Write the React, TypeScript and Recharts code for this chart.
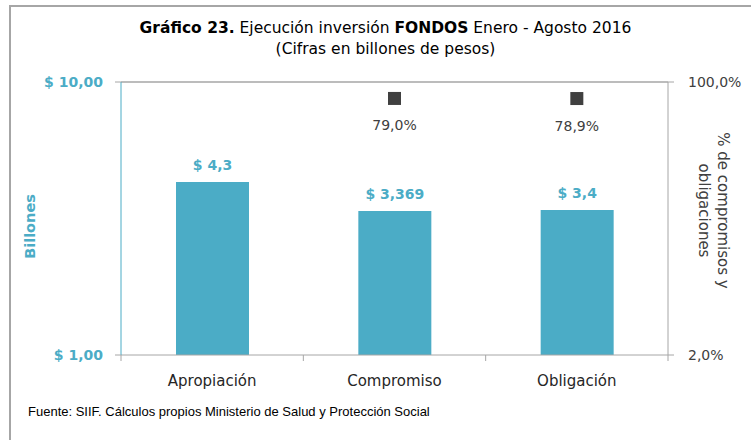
import React from 'react';
import { ComposedChart, Bar, Line, XAxis, YAxis, LabelList, ReferenceLine, Label } from 'recharts';

const categories = ['Apropiación', 'Compromiso', 'Obligación'];
const amounts = [4.3, 3.369, 3.4];
const amountLabels = ['$ 4,3', '$ 3,369', '$ 3,4'];
const percents: (number | null)[] = [null, 79.0, 78.9];
const percentLabels = ['', '79,0%', '78,9%'];
const leftTicks = [1, 10];
const leftTickLabels = ['$ 1,00', '$ 10,00'];
const rightTicks = [2, 100];
const rightTickLabels = ['2,0%', '100,0%'];

const data = categories.map((name, i) => ({ name, amount: amounts[i], pct: percents[i] }));

const BLUE = '#4BACC6';
const GRAY = '#a6a6a6';
const DARK = '#404040';
const FONT = '"DejaVu Sans", sans-serif';

const XTick = (props: any) => {
  const { x, y, payload, index, visibleTicksCount, width } = props;
  const half = payload && payload.offset ? payload.offset : width / visibleTicksCount / 2;
  const axisY = y - 6 - 14;
  return (
    <g>
      <line x1={x - half} x2={x - half} y1={axisY} y2={axisY + 6} stroke={GRAY} />
      {index === visibleTicksCount - 1 && (
        <line x1={x + half} x2={x + half} y1={axisY} y2={axisY + 6} stroke={GRAY} />
      )}
      <text x={x} y={y} dy="0.71em" textAnchor="middle" fill="#262626" fontSize={15} fontFamily={FONT}>
        {payload.value}
      </text>
    </g>
  );
};

const Square = (props: any) => {
  const { cx, cy, value, index } = props;
  if (value == null || cy == null || isNaN(cy)) return <g key={`sq-${index}`} />;
  return <rect key={`sq-${index}`} x={cx - 6.5} y={cy - 6.5} width={13} height={13} fill={DARK} />;
};

const BarLabel = (props: any) => {
  const { x, y, width, index } = props;
  return (
    <text x={x + width / 2} y={y - 12} textAnchor="middle" fill={BLUE} fontSize={14} fontWeight="bold" fontFamily={FONT}>
      {amountLabels[index]}
    </text>
  );
};

const PctLabel = (props: any) => {
  const { x, y, value, index } = props;
  if (value == null || y == null) return null;
  return (
    <text x={x} y={y + 32} textAnchor="middle" fill={DARK} fontSize={14} fontFamily={FONT}>
      {percentLabels[index]}
    </text>
  );
};

export default function App() {
  return (
    <div style={{ position: 'absolute', left: 0, top: 0, width: 751, height: 440, overflow: 'hidden', background: '#fff' }}>
      <div style={{ position: 'absolute', left: 9, top: 5, width: 800, height: 500, borderTop: `2px solid ${GRAY}`, borderLeft: `2px solid ${GRAY}` }} />
      <div style={{ position: 'absolute', left: 0, top: 18, width: 771, textAlign: 'center', fontFamily: FONT, fontSize: 15.5, lineHeight: '21px', color: '#000' }}>
        <div><b>Gráfico 23.</b> Ejecución inversión <b>FONDOS</b> Enero - Agosto 2016</div>
        <div>(Cifras en billones de pesos)</div>
      </div>
      <div style={{ position: 'absolute', left: 28, top: 404, fontFamily: '"Liberation Sans", sans-serif', fontSize: 13, color: '#000', whiteSpace: 'nowrap' }}>
        Fuente: SIIF. Cálculos propios Ministerio de Salud y Protección Social
      </div>
      <div style={{ position: 'absolute', left: 0, top: 0 }}>
        <ComposedChart width={751} height={440} data={data} margin={{ top: 82, right: 0, bottom: 55, left: 0 }}>
          <XAxis
            dataKey="name"
            height={30}
            tickLine={false}
            axisLine={{ stroke: GRAY }}
            tickSize={6}
            tickMargin={14}
            tick={<XTick />}
            interval={0}
          />
          <YAxis
            yAxisId="left"
            scale="log"
            domain={[1, 10]}
            ticks={leftTicks}
            allowDataOverflow
            width={121}
            tickSize={6}
            tickMargin={12}
            axisLine={{ stroke: BLUE }}
            tickLine={{ stroke: GRAY }}
            tick={{ fill: BLUE, fontSize: 14, fontWeight: 'bold', fontFamily: FONT }}
            tickFormatter={(v: number) => leftTickLabels[leftTicks.indexOf(v)]}
          >
            <Label
              content={(p: any) => {
                const vb = p.viewBox || {};
                const cx = (vb.x || 0) + 30;
                const cy = (vb.y || 0) + (vb.height || 0) / 2 + 8;
                return (
                  <text x={cx} y={cy} transform={`rotate(-90, ${cx}, ${cy})`} textAnchor="middle" dominantBaseline="central" fill={BLUE} fontSize={14.5} fontWeight="bold" fontFamily={FONT}>
                    Billones
                  </text>
                );
              }}
            />
          </YAxis>
          <YAxis
            yAxisId="right"
            orientation="right"
            scale="log"
            domain={[2, 100]}
            ticks={rightTicks}
            allowDataOverflow
            width={83}
            tickSize={6}
            tickMargin={14}
            axisLine={{ stroke: GRAY }}
            tickLine={{ stroke: GRAY }}
            tick={{ fill: DARK, fontSize: 14, fontFamily: FONT }}
            tickFormatter={(v: number) => rightTickLabels[rightTicks.indexOf(v)]}
          >
            <Label
              content={(p: any) => {
                const vb = p.viewBox || {};
                const cx = (vb.x || 0) + 46;
                const cy = (vb.y || 0) + (vb.height || 0) / 2 - 8;
                return (
                  <text transform={`rotate(90, ${cx}, ${cy})`} x={cx} y={cy} textAnchor="middle" fill={DARK} fontSize={15} fontFamily={FONT}>
                    <tspan x={cx} dy={-4}>% de compromisos y</tspan>
                    <tspan x={cx} dy={19}>obligaciones</tspan>
                  </text>
                );
              }}
            />
          </YAxis>
          <ReferenceLine yAxisId="left" y={10} stroke={GRAY} strokeWidth={1.5} />
          <Bar yAxisId="left" dataKey="amount" fill={BLUE} barSize={73} isAnimationActive={false}>
            <LabelList dataKey="amount" content={<BarLabel />} />
          </Bar>
          <Line
            yAxisId="right"
            dataKey="pct"
            stroke="none"
            dot={(p: any) => <Square {...p} />}
            activeDot={false}
            isAnimationActive={false}
            connectNulls={false}
          >
            <LabelList dataKey="pct" content={<PctLabel />} />
          </Line>
        </ComposedChart>
      </div>
    </div>
  );
}
